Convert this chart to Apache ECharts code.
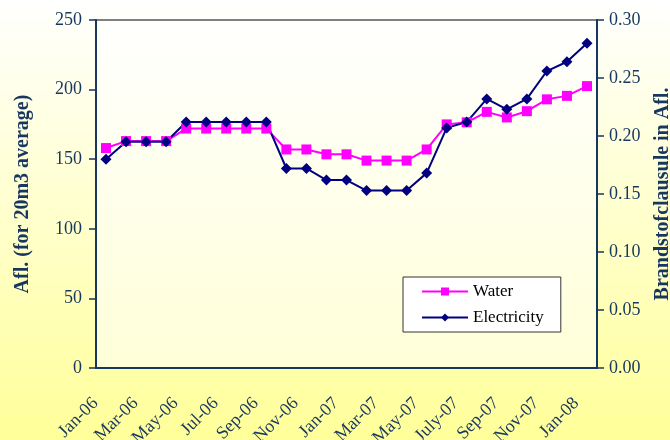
<!DOCTYPE html>
<html>
<head>
<meta charset="utf-8">
<script src="https://cdn.jsdelivr.net/npm/echarts@6/dist/echarts.min.js"></script>
<style>
  html, body { margin: 0; padding: 0; }
  #chart { width: 670px; height: 440px; }
</style>
</head>
<body>
<div id="chart"></div>
<script>
  const months = ['Jan-06', 'Feb-06', 'Mar-06', 'Apr-06', 'May-06', 'Jun-06', 'Jul-06', 'Aug-06',
    'Sep-06', 'Oct-06', 'Nov-06', 'Dec-06', 'Jan-07', 'Feb-07', 'Mar-07', 'Apr-07', 'May-07',
    'Jun-07', 'July-07', 'Aug-07', 'Sep-07', 'Oct-07', 'Nov-07', 'Dec-07', 'Jan-08'];
  const water = [158, 163, 163, 163, 172, 172, 172, 172, 172, 157, 157, 153.5, 153.5,
    149, 149, 149, 157, 175, 176.5, 184, 180, 184.5, 193, 195.5, 202.5];
  const electricity = [0.180, 0.195, 0.195, 0.195, 0.212, 0.212, 0.212, 0.212, 0.212, 0.172,
    0.172, 0.162, 0.162, 0.153, 0.153, 0.153, 0.168, 0.207, 0.212, 0.232, 0.223, 0.232,
    0.256, 0.264, 0.280];

  const ink = '#17375E';
  const font = '"Liberation Serif", "Times New Roman", serif';

  const chart = echarts.init(document.getElementById('chart'));
  const option = {
    backgroundColor: new echarts.graphic.LinearGradient(0, 0, 0, 1, [
      { offset: 0, color: '#FFFFFF' },
      { offset: 1, color: '#FFFF99' }
    ]),
    textStyle: { fontFamily: font, color: ink },
    animation: false,
    grid: {
      left: 96, right: 73, top: 20, bottom: 72,
      outerBoundsMode: 'none',
      containLabel: false,
      show: true,
      borderColor: '#808080',
      borderWidth: 2,
      backgroundColor: new echarts.graphic.LinearGradient(0, 0, 0, 1, [
        { offset: 0, color: '#FFFFFF' },
        { offset: 1, color: '#FFFFD8' }
      ])
    },
    legend: {
      orient: 'vertical',
      left: 403,
      top: 277,
      padding: [6, 17, 6, 18],
      itemWidth: 46,
      itemHeight: 10,
      itemGap: 9,
      backgroundColor: '#FFFFFF',
      borderColor: '#333333',
      borderWidth: 1,
      borderRadius: 0,
      textStyle: { fontFamily: font, fontSize: 17, color: '#000000' },
      data: ['Water', 'Electricity']
    },
    xAxis: {
      type: 'category',
      data: months,
      boundaryGap: true,
      axisLine: { lineStyle: { color: ink, width: 2 } },
      axisTick: { interval: 0, length: 6, lineStyle: { color: ink, width: 1.5 } },
      axisLabel: {
        interval: 1,
        rotate: 45,
        margin: 22,
        padding: [0, 15, 0, 0],
        fontSize: 18,
        fontFamily: font,
        color: ink
      },
      splitLine: { show: false }
    },
    yAxis: [
      {
        type: 'value',
        min: 0, max: 250, interval: 50,
        name: 'Afl. (for 20m3 average)',
        nameLocation: 'middle',
        nameRotate: 90,
        nameGap: 63,
        nameTextStyle: { fontFamily: font, fontSize: 20, fontWeight: 'bold', color: ink },
        axisLine: { show: true, lineStyle: { color: ink, width: 2 } },
        axisTick: { show: true, length: 7, lineStyle: { color: ink, width: 1.5 } },
        axisLabel: { fontSize: 18, margin: 14, color: ink, fontFamily: font },
        splitLine: { show: false }
      },
      {
        type: 'value',
        min: 0, max: 0.30, interval: 0.05,
        position: 'right',
        name: 'Brandstofclausule in Afl.',
        nameLocation: 'middle',
        nameRotate: 90,
        nameGap: 56,
        nameTextStyle: { fontFamily: font, fontSize: 20, fontWeight: 'bold', color: ink },
        axisLine: { show: true, lineStyle: { color: ink, width: 2 } },
        axisTick: { show: true, length: 7, lineStyle: { color: ink, width: 1.5 } },
        axisLabel: {
          fontSize: 18, margin: 12, color: ink, fontFamily: font,
          formatter: v => v.toFixed(2)
        },
        splitLine: { show: false }
      }
    ],
    series: [
      {
        name: 'Water',
        type: 'line',
        yAxisIndex: 0,
        data: water,
        symbol: 'rect',
        symbolSize: 10,
        lineStyle: { color: '#FF00FF', width: 2 },
        itemStyle: { color: '#FF00FF' }
      },
      {
        name: 'Electricity',
        type: 'line',
        yAxisIndex: 1,
        data: electricity,
        symbol: 'diamond',
        symbolSize: 11,
        lineStyle: { color: '#000080', width: 2 },
        itemStyle: { color: '#000080' }
      }
    ]
  };
  chart.setOption(option);
</script>
</body>
</html>
